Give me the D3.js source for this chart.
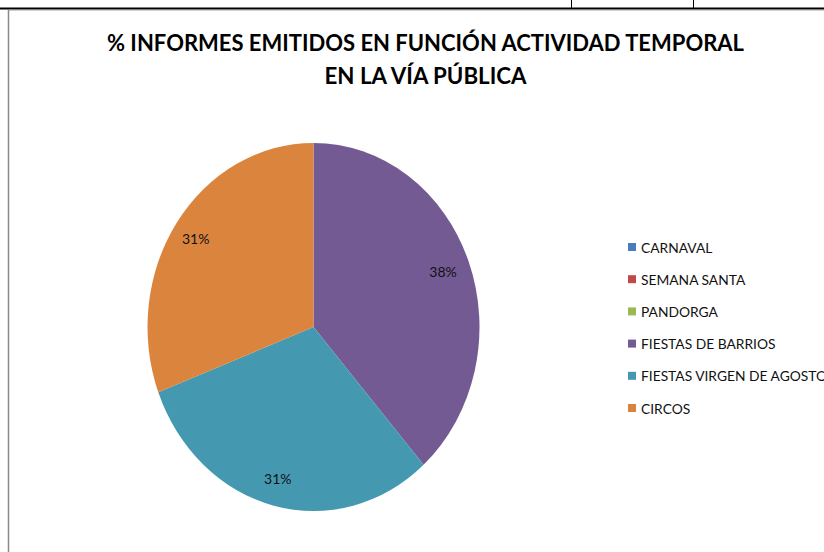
<!DOCTYPE html>
<html>
<head>
<meta charset="utf-8">
<script src="https://cdn.jsdelivr.net/npm/d3@7/dist/d3.min.js"></script>
<style>
  body { margin: 0; background: #fff; overflow: hidden; }
  svg { display: block; }
</style>
</head>
<body>
<div class="chart"></div>
<script>
// Data
const categories = ["CARNAVAL", "SEMANA SANTA", "PANDORGA", "FIESTAS DE BARRIOS", "FIESTAS VIRGEN DE AGOSTO", "CIRCOS"]
const counts = [0, 0, 0, 5, 4, 4]
const colors = ["#4A7EBB", "#BE4B48", "#98B954", "#745A93", "#4499B1", "#DB843D"]
const titleLines = ["% INFORMES EMITIDOS EN FUNCIÓN ACTIVIDAD TEMPORAL", "EN LA VÍA PÚBLICA"]

// Dimensions
const dimensions = {
  width: 824,
  height: 552,
  cx: 313.5,
  cy: 327,
  radius: 184,
  squash: 166 / 184,
}

const wrapper = d3.select(".chart")
  .append("svg")
  .attr("width", dimensions.width)
  .attr("height", dimensions.height)

// sheet borders around the chart
wrapper.append("line")
  .attr("x1", 8).attr("x2", 824).attr("y1", 10.5).attr("y2", 10.5)
  .attr("stroke", "#d0d0d0").attr("stroke-width", 1)
wrapper.append("line")
  .attr("x1", 0).attr("x2", 824).attr("y1", 8.5).attr("y2", 8.5)
  .attr("stroke", "#000").attr("stroke-width", 2)
wrapper.selectAll(".cell-line")
  .data([571.5, 693.5])
  .join("line")
  .attr("x1", d => d).attr("x2", d => d)
  .attr("y1", 0).attr("y2", 8)
  .attr("stroke", "#000").attr("stroke-width", 1)
wrapper.append("line")
  .attr("x1", 8.5).attr("x2", 8.5).attr("y1", 10).attr("y2", 552)
  .attr("stroke", "#8a8a8a").attr("stroke-width", 1.5)

// Title
wrapper.append("g")
  .selectAll("text")
  .data(titleLines)
  .join("text")
  .attr("x", 425.5)
  .attr("y", (d, i) => 42 + i * 33)
  .attr("text-anchor", "middle")
  .attr("dominant-baseline", "central")
  .attr("font-family", "Lato, 'Open Sans', sans-serif")
  .attr("font-weight", "bold")
  .attr("font-size", 22)
  .attr("textLength", (d, i) => i === 0 ? 637 : 202)
  .attr("lengthAdjust", "spacingAndGlyphs")
  .text(d => d)

// Pie
const pie = d3.pie().sort(null).value(d => d)
const arcs = pie(counts)
const arc = d3.arc().innerRadius(0).outerRadius(dimensions.radius)
const labelArc = d3.arc().innerRadius(156).outerRadius(156)
const total = d3.sum(counts)

const bounds = wrapper.append("g")
  .attr("transform", `translate(${dimensions.cx},${dimensions.cy}) scale(${dimensions.squash},1)`)

bounds.selectAll("path")
  .data(arcs)
  .join("path")
  .attr("d", arc)
  .attr("fill", (d, i) => colors[i])

wrapper.append("g")
  .selectAll("text")
  .data(arcs.filter(d => d.value > 0))
  .join("text")
  .attr("x", d => dimensions.cx + labelArc.centroid(d)[0] * dimensions.squash - 2)
  .attr("y", d => dimensions.cy + labelArc.centroid(d)[1])
  .attr("text-anchor", "middle")
  .attr("dominant-baseline", "central")
  .attr("font-family", "Lato, 'Open Sans', sans-serif")
  .attr("font-size", 14)
  .attr("fill", "#111")
  .text(d => `${Math.round(d.value / total * 100)}%`)

// Legend
const legendY = d3.scalePoint()
  .domain(categories)
  .range([247, 408])

const legend = wrapper.append("g")
  .selectAll("g")
  .data(categories)
  .join("g")
  .attr("transform", d => `translate(628,${legendY(d)})`)

legend.append("rect")
  .attr("x", 0).attr("y", -4)
  .attr("width", 8).attr("height", 8)
  .attr("fill", (d, i) => colors[i])

legend.append("text")
  .attr("x", 13)
  .attr("y", 0)
  .attr("dominant-baseline", "central")
  .attr("font-family", "Lato, 'Open Sans', sans-serif")
  .attr("font-size", 13.8)
  .attr("fill", "#111")
  .text(d => d)
</script>
</body>
</html>
